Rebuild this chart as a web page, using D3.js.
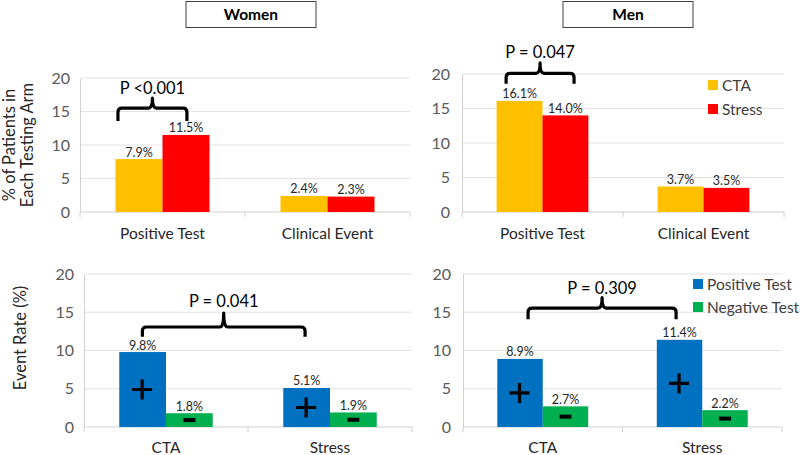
<!DOCTYPE html>
<html>
<head>
<meta charset="utf-8">
<script src="https://cdn.jsdelivr.net/npm/d3@7"></script>
<style>
  html, body { margin: 0; padding: 0; background: #fff; }
  svg { display: block; font-family: Lato, "Open Sans", sans-serif; }
</style>
</head>
<body>
<svg id="chart" width="800" height="455"></svg>
<script>
// ---------- data ----------
const topCategories = ["Positive Test", "Clinical Event"];
const topSeries = ["CTA", "Stress"];
const womenTopCTA = [7.9, 2.4];
const womenTopStress = [11.5, 2.3];
const menTopCTA = [16.1, 3.7];
const menTopStress = [14.0, 3.5];

const bottomCategories = ["CTA", "Stress"];
const bottomSeries = ["Positive Test", "Negative Test"];
const womenBottomPos = [9.8, 5.1];
const womenBottomNeg = [1.8, 1.9];
const menBottomPos = [8.9, 11.4];
const menBottomNeg = [2.7, 2.2];

const yTicks = [0, 5, 10, 15, 20];
const panelTitles = ["Women", "Men"];
const pValues = ["P <0.001", "P = 0.047", "P = 0.041", "P = 0.309"];

// ---------- styles ----------
const topColors = ["#FFC000", "#FF0000"];
const bottomColors = ["#0070C0", "#00B050"];

const svg = d3.select("#chart");

function panel(cfg) {
  const g = svg.append("g");
  const x0 = d3.scaleBand().domain(cfg.categories).range(cfg.xr).padding(0);
  const groupW = x0.bandwidth() * 0.57;
  const x1 = d3.scaleBand().domain(cfg.series).range([0, groupW]).padding(0);
  const y = d3.scaleLinear().domain([0, 20]).range(cfg.yr);

  // gridlines
  g.selectAll("line.grid").data(yTicks.filter(t => t > 0)).join("line")
    .attr("x1", cfg.xr[0]).attr("x2", cfg.xr[1])
    .attr("y1", d => y(d)).attr("y2", d => y(d))
    .attr("stroke", "#e3e3e3").attr("stroke-width", 1);

  // y axis
  const yAxis = d3.axisLeft(y).tickValues(yTicks).tickSize(0).tickPadding(cfg.tickPad);
  const ya = g.append("g").attr("transform", `translate(${cfg.xr[0]},0)`).call(yAxis);
  ya.select(".domain").attr("stroke", "#d0d0d0");
  ya.selectAll("text").attr("font-size", 16).attr("fill", "#595959")
    .attr("font-family", "Lato, sans-serif");

  // x axis
  const xa = g.append("g").attr("transform", `translate(0,${cfg.yr[0]})`);
  xa.append("line").attr("x1", cfg.xr[0]).attr("x2", cfg.xr[1])
    .attr("stroke", "#d0d0d0");
  const bounds = [cfg.xr[0]].concat(cfg.categories.map(c => x0(c) + x0.bandwidth()));
  xa.selectAll("line.tk").data(bounds).join("line")
    .attr("x1", d => d).attr("x2", d => d).attr("y1", 0).attr("y2", 5)
    .attr("stroke", "#d0d0d0");
  xa.selectAll("text").data(cfg.categories).join("text")
    .attr("x", d => x0(d) + x0.bandwidth() / 2)
    .attr("y", cfg.catDy)
    .attr("text-anchor", "middle").attr("font-size", 15.5).attr("fill", "#262626")
    .text(d => d);

  // bars
  const rows = [];
  cfg.categories.forEach((c, i) => {
    cfg.series.forEach((s, j) => rows.push({ c, s, j, v: cfg.values[j][i] }));
  });
  const off = (x0.bandwidth() - groupW) / 2;
  const bx = d => x0(d.c) + off + x1(d.s);
  g.selectAll("rect.bar").data(rows).join("rect")
    .attr("x", bx).attr("width", x1.bandwidth())
    .attr("y", d => y(d.v)).attr("height", d => y(0) - y(d.v))
    .attr("fill", d => cfg.colors[d.j]);

  g.selectAll("text.lbl").data(rows).join("text")
    .attr("x", d => bx(d) + x1.bandwidth() / 2)
    .attr("y", d => y(d.v) - 2.5)
    .attr("text-anchor", "middle").attr("font-size", 12.5).attr("fill", "#262626")
    .text(d => d.v.toFixed(1) + "%");

  // plus / minus signs
  if (cfg.signs) {
    rows.forEach(d => {
      const cx = bx(d) + x1.bandwidth() / 2 + (d.j === 0 ? -0.5 : 0);
      const cy = y(d.v / 2);
      if (d.j === 0) {
        g.append("path").attr("d", `M${cx - 10},${cy}H${cx + 10}M${cx},${cy - 10}V${cy + 10}`)
          .attr("stroke", "#000").attr("stroke-width", 3.2).attr("fill", "none");
      } else {
        g.append("path").attr("d", `M${cx - 6},${cy}H${cx + 6}`)
          .attr("stroke", "#000").attr("stroke-width", 4).attr("fill", "none");
      }
    });
  }

  // legend
  if (cfg.legend) {
    const lg = g.append("g");
    cfg.series.forEach((s, j) => {
      const ly = cfg.legend.y + j * cfg.legend.dy;
      lg.append("rect").attr("x", cfg.legend.x).attr("y", ly - 5).attr("width", 10).attr("height", 10)
        .attr("fill", cfg.colors[j]);
      lg.append("text").attr("x", cfg.legend.x + 14).attr("y", ly + 5.5)
        .attr("font-size", 15.5).attr("fill", "#404040").text(s);
    });
  }

  // bracket (positions in data space)
  const b = cfg.bracket;
  const span = cfg.xr[1] - cfg.xr[0];
  const xa1 = cfg.xr[0] + b.f1 * span, xa2 = cfg.xr[0] + b.f2 * span;
  const xm = (xa1 + xa2) / 2;
  const yh = y(b.h), ye = y(b.e), yn = y(b.n);
  const r = 4;
  g.append("path")
    .attr("d", `M${xa1},${ye}V${yh + r}Q${xa1},${yh} ${xa1 + r},${yh}H${xm - r}Q${xm},${yh} ${xm},${yn}` +
               `Q${xm},${yh} ${xm + r},${yh}H${xa2 - r}Q${xa2},${yh} ${xa2},${yh + r}V${ye}`)
    .attr("fill", "none").attr("stroke", "#000").attr("stroke-width", 3.2)
    .attr("stroke-linejoin", "round");
  g.append("text").attr("x", xm).attr("y", y(b.t))
    .attr("text-anchor", "middle").attr("font-size", 16.5).attr("fill", "#000")
    .text(b.label);
  return g;
}

// panel titles
function titleBox(cx, w, text) {
  svg.append("rect").attr("x", cx - w / 2).attr("y", 1.5).attr("width", w).attr("height", 26)
    .attr("fill", "#fff").attr("stroke", "#404040").attr("stroke-width", 1);
  svg.append("text").attr("x", cx).attr("y", 20).attr("text-anchor", "middle")
    .attr("font-size", 15.5).attr("font-weight", "bold").attr("fill", "#000").text(text);
}
titleBox(251, 130, panelTitles[0]);
titleBox(628, 130, panelTitles[1]);

panel({
  categories: topCategories, series: topSeries, values: [womenTopCTA, womenTopStress],
  colors: topColors, xr: [80, 410], yr: [212, 78], tickPad: 10, catDy: 27,
  bracket: { f1: 0.115, f2: 0.324, h: 15.5, e: 13.6, n: 17.0, t: 17.6, label: pValues[0] }
});
panel({
  categories: topCategories, series: topSeries, values: [menTopCTA, menTopStress],
  colors: topColors, xr: [462, 784], yr: [212, 74], tickPad: 12, catDy: 27,
  legend: { x: 708, y: 85, dy: 24 },
  bracket: { f1: 0.137, f2: 0.348, h: 20.1, e: 18.6, n: 21.6, t: 22.3, label: pValues[1] }
});
panel({
  categories: bottomCategories, series: bottomSeries, values: [womenBottomPos, womenBottomNeg],
  colors: bottomColors, xr: [84, 412], yr: [427, 274], tickPad: 10, catDy: 26, signs: true,
  bracket: { f1: 0.178, f2: 0.674, h: 13.07, e: 11.8, n: 14.9, t: 15.7, label: pValues[2] }
});
panel({
  categories: bottomCategories, series: bottomSeries, values: [menBottomPos, menBottomNeg],
  colors: bottomColors, xr: [463, 782], yr: [427, 274], tickPad: 12, catDy: 26, signs: true,
  legend: { x: 693, y: 284, dy: 23 },
  bracket: { f1: 0.204, f2: 0.668, h: 15.55, e: 14.1, n: 16.9, t: 17.4, label: pValues[3] }
});

// y axis titles
svg.append("text").attr("transform", "translate(15,145) rotate(-90)")
  .attr("text-anchor", "middle").attr("font-size", 16.5).attr("fill", "#262626").text("% of Patients in");
svg.append("text").attr("transform", "translate(33,145) rotate(-90)")
  .attr("text-anchor", "middle").attr("font-size", 16.5).attr("fill", "#262626").text("Each Testing Arm");
svg.append("text").attr("transform", "translate(26,338) rotate(-90)")
  .attr("text-anchor", "middle").attr("font-size", 16.5).attr("fill", "#262626").text("Event Rate (%)");
</script>
</body>
</html>
